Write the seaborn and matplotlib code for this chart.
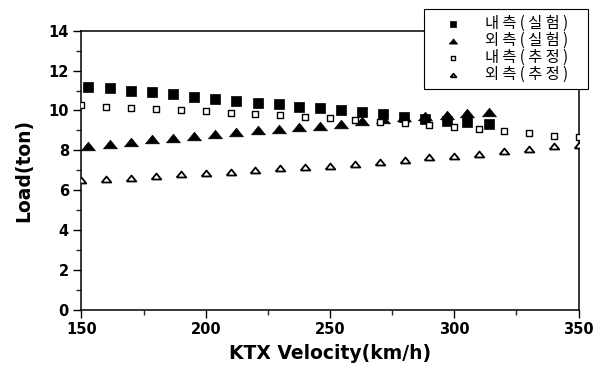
import numpy as np
import pandas as pd
import matplotlib
matplotlib.use("Agg")
import matplotlib.pyplot as plt
import seaborn as sns
from matplotlib.ticker import MultipleLocator

vel_exp = [152.7, 161.5, 169.8, 178.3, 187.0, 195.4, 203.8, 212.2, 221.0, 229.3,
           237.7, 246.1, 254.5, 262.9, 271.3, 279.6, 288.4, 297.1, 305.3, 314.1]
inner_exp = [11.19, 11.11, 10.99, 10.93, 10.81, 10.69, 10.59, 10.49, 10.39, 10.33,
             10.19, 10.11, 10.03, 9.91, 9.80, 9.69, 9.57, 9.47, 9.44, 9.31]
outer_exp = [8.22, 8.32, 8.44, 8.56, 8.64, 8.72, 8.81, 8.91, 9.01, 9.09,
             9.17, 9.24, 9.32, 9.47, 9.58, 9.66, 9.72, 9.77, 9.86, 9.94]

vel_est = [150, 160, 170, 180, 190, 200, 210, 220, 230, 240,
           250, 260, 270, 280, 290, 300, 310, 320, 330, 340, 350]
inner_est = [10.28, 10.19, 10.11, 10.08, 10.03, 9.97, 9.89, 9.82, 9.77, 9.69,
             9.61, 9.52, 9.44, 9.36, 9.27, 9.16, 9.08, 8.99, 8.86, 8.74, 8.66]
outer_est = [6.52, 6.57, 6.63, 6.72, 6.80, 6.88, 6.93, 7.02, 7.10, 7.18,
             7.23, 7.32, 7.43, 7.52, 7.65, 7.73, 7.84, 7.97, 8.09, 8.22, 8.27]

labels = ["내 측 ( 실 험 )", "외 측 ( 실 험 )", "내 측 ( 추 정 )", "외 측 ( 추 정 )"]

sns.set_style("ticks")
plt.rcParams["font.family"] = ["DejaVu Sans"]
plt.rcParams["axes.labelcolor"] = "black"
plt.rcParams["text.color"] = "black"

# flattened triangle like the scan
tri = [(-1, -0.62), (1, -0.62), (0, 0.62), (-1, -0.62)]

fig = plt.figure(figsize=(6.05, 3.72), dpi=100)
ax = fig.add_axes([0.1347, 0.1667, 0.8215, 0.7508])

sns.scatterplot(x=vel_exp, y=inner_exp, ax=ax, marker="s", s=46, color="black",
                edgecolor="black", linewidth=0.5, label=labels[0], zorder=3)
sns.scatterplot(x=vel_exp, y=outer_exp, ax=ax, marker=tri, s=100, color="black",
                edgecolor="black", linewidth=0.5, label=labels[1], zorder=3)
sns.scatterplot(x=vel_est, y=inner_est, ax=ax, marker="s", s=20, facecolor="white",
                edgecolor="black", linewidth=1.0, label=labels[2], zorder=4)
sns.scatterplot(x=vel_est, y=outer_est, ax=ax, marker=tri, s=48, facecolor="white",
                edgecolor="black", linewidth=1.3, label=labels[3], zorder=4)

ax.set_xlim(150, 350)
ax.set_ylim(0, 14)
ax.xaxis.set_major_locator(MultipleLocator(50))
ax.xaxis.set_minor_locator(MultipleLocator(25))
ax.yaxis.set_major_locator(MultipleLocator(2))
ax.yaxis.set_minor_locator(MultipleLocator(1))
ax.tick_params(which="major", direction="out", length=6, width=1.0, labelsize=10.5,
               colors="black", pad=3)
ax.tick_params(which="minor", direction="out", length=3.5, width=1.0)
for lab in ax.get_xticklabels() + ax.get_yticklabels():
    lab.set_fontweight("bold")
for sp in ax.spines.values():
    sp.set_visible(True)
    sp.set_linewidth(1.1)
    sp.set_color("black")

ax.set_xlabel("KTX Velocity(km/h)", fontsize=13.5, fontweight="bold", labelpad=5)
ax.set_ylabel("Load(ton)", fontsize=13.5, fontweight="bold", labelpad=11)

handles, labs = ax.get_legend_handles_labels()
ax.get_legend().remove()
leg = fig.legend(handles, [l + "    " for l in labs], loc="upper right",
                 bbox_to_anchor=(588 / 605, 1 - 9 / 372),
                 frameon=True, fancybox=False, edgecolor="black", framealpha=1,
                 prop={"family": ["Noto Sans CJK KR", "DejaVu Sans"], "size": 11},
                 markerscale=0.6, handlelength=3.0, handletextpad=0.6,
                 borderpad=0.4, labelspacing=0.0, borderaxespad=0)
leg.get_frame().set_linewidth(0.8)

fig.savefig("out.png", dpi=100)
